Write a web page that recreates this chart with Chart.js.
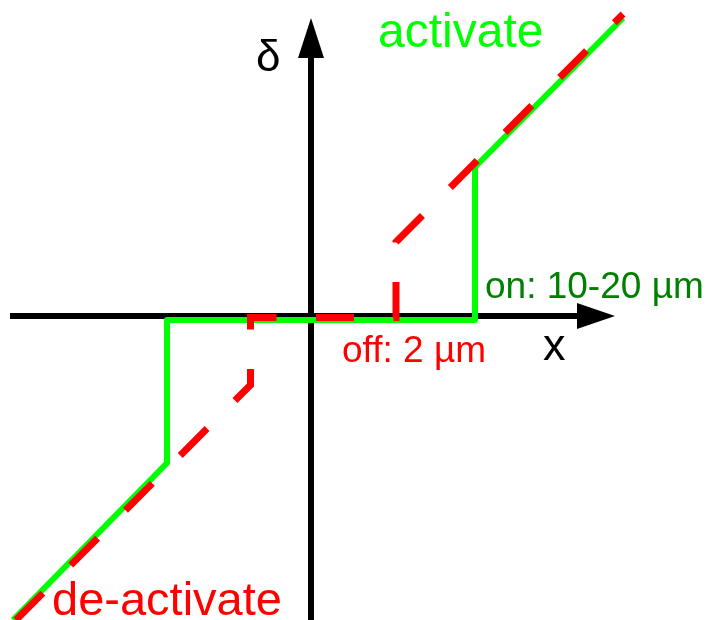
<!DOCTYPE html>
<html>
<head>
<meta charset="utf-8">
<script src="https://cdn.jsdelivr.net/npm/chart.js@4"></script>
<style>
  html, body { margin: 0; padding: 0; background: #fff; }
  #wrap { width: 708px; height: 620px; }
</style>
</head>
<body>
<div id="wrap"><canvas id="hyst"></canvas></div>
<script>
// switching curves, in plot units (origin where the axes cross)
const activateX = [-29.8, -14.4, -14.4, 16.4, 16.4, 31.2];
const activateY = [-30.4, -14.7, -0.4, -0.4, 14.9, 29.8];
const deactivateX = [-29.5, -6.05, -6.05, 8.5, 8.5, 31.2];
const deactivateY = [-30.4, -6.9, -0.15, -0.15, 7.4, 30.2];

const xRange = [-31.1, 39.7];
const yRange = [-30.4, 31.6];

const green = "#00ff00";
const darkGreen = "#008000";
const red = "#ff0000";
const font = "'Liberation Sans', Arial, sans-serif";

const toPoints = (xs, ys) => xs.map((x, i) => ({ x: x, y: ys[i] }));

// axes with arrow heads, drawn under the curves
const axesPlugin = {
  id: "axes",
  beforeDatasetsDraw(chart) {
    const { ctx, scales } = chart;
    const px = (v) => scales.x.getPixelForValue(v);
    const py = (v) => scales.y.getPixelForValue(v);
    const x0 = px(0), y0 = py(0);
    ctx.save();
    ctx.strokeStyle = "#000";
    ctx.fillStyle = "#000";
    ctx.lineWidth = 6;
    ctx.beginPath();
    ctx.moveTo(px(-30.1), y0);
    ctx.lineTo(px(27), y0);
    ctx.moveTo(x0, py(-30.4));
    ctx.lineTo(x0, py(26.2));
    ctx.stroke();
    // x arrow
    ctx.beginPath();
    ctx.moveTo(px(30.4), y0);
    ctx.lineTo(px(26.6), y0 - 13);
    ctx.lineTo(px(26.6), y0 + 13);
    ctx.closePath();
    ctx.fill();
    // y arrow
    ctx.beginPath();
    ctx.moveTo(x0, py(29.8));
    ctx.lineTo(x0 - 13, py(25.8));
    ctx.lineTo(x0 + 13, py(25.8));
    ctx.closePath();
    ctx.fill();
    ctx.restore();
  },
};

const labels = [
  { text: "activate", x: 6.7, y: 26.9, size: 48, color: green },
  { text: "de-activate", x: -25.9, y: -29.9, size: 47, color: red },
  { text: "on: 10-20 µm", x: 17.4, y: 1.8, size: 37, color: darkGreen },
  { text: "off: 2 µm", x: 3.1, y: -4.6, size: 37, color: red },
  { text: "δ", x: -5.5, y: 24.5, size: 44, color: "#000" },
  { text: "x", x: 23.2, y: -4.4, size: 45, color: "#000" },
];

const labelPlugin = {
  id: "labels",
  afterDatasetsDraw(chart) {
    const { ctx, scales } = chart;
    ctx.save();
    ctx.textAlign = "left";
    ctx.textBaseline = "alphabetic";
    labels.forEach((l) => {
      ctx.font = l.size + "px " + font;
      ctx.fillStyle = l.color;
      ctx.fillText(l.text, scales.x.getPixelForValue(l.x), scales.y.getPixelForValue(l.y));
    });
    ctx.restore();
  },
};

new Chart(document.getElementById("hyst").getContext("2d"), {
  type: "scatter",
  data: {
    datasets: [
      {
        label: "off",
        data: toPoints(deactivateX, deactivateY),
        showLine: true,
        borderColor: red,
        borderWidth: 7,
        borderDash: [38, 39.5],
        borderCapStyle: "butt",
        pointRadius: 0,
        order: 0,
      },
      {
        label: "on",
        data: toPoints(activateX, activateY),
        showLine: true,
        borderColor: green,
        borderWidth: 6,
        borderJoinStyle: "round",
        pointRadius: 0,
        order: 1,
      },
    ],
  },
  options: {
    responsive: true,
    maintainAspectRatio: false,
    animation: false,
    layout: { padding: 0, autoPadding: false },
    plugins: { legend: { display: false }, tooltip: { enabled: false } },
    scales: {
      x: { type: "linear", min: xRange[0], max: xRange[1], display: false },
      y: { type: "linear", min: yRange[0], max: yRange[1], display: false },
    },
  },
  plugins: [axesPlugin, labelPlugin],
});
</script>
</body>
</html>
